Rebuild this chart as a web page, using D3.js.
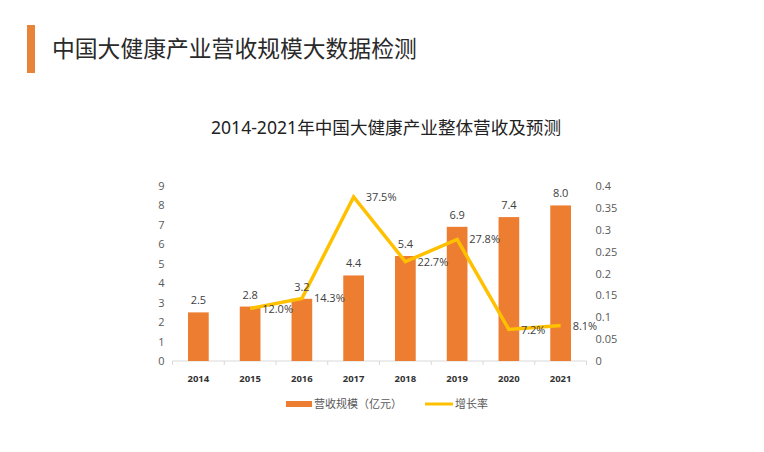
<!DOCTYPE html>
<html>
<head>
<meta charset="utf-8">
<script src="https://cdn.jsdelivr.net/npm/d3@7"></script>
<style>
  body { margin: 0; background: #fff; }
  text { font-family: "Noto Sans", "Noto Sans CJK SC", sans-serif; }
</style>
</head>
<body>
<div id="chart-area"></div>
<script>
// data
const years = ["2014", "2015", "2016", "2017", "2018", "2019", "2020", "2021"];
const revenue = [2.5, 2.8, 3.2, 4.4, 5.4, 6.9, 7.4, 8.0];
const growthYears = ["2015", "2016", "2017", "2018", "2019", "2020", "2021"];
const growth = [0.120, 0.143, 0.375, 0.227, 0.278, 0.072, 0.081];
const leftTicks = [0, 1, 2, 3, 4, 5, 6, 7, 8, 9];
const rightTicks = [0, 0.05, 0.1, 0.15, 0.2, 0.25, 0.3, 0.35, 0.4];

const W = 764, H = 452;
const plot = { left: 172.5, right: 586.5, top: 186, bottom: 361 };

var svg = d3.select("#chart-area")
  .append("svg")
    .attr("width", W)
    .attr("height", H);

// header
svg.append("rect")
  .attr("x", 27).attr("y", 25).attr("width", 8).attr("height", 48)
  .attr("fill", "#E8833A");
svg.append("text")
  .attr("x", 52).attr("y", 57)
  .attr("font-size", 22.8)
  .attr("fill", "#2a2a2a")
  .text("中国大健康产业营收规模大数据检测");

svg.append("text")
  .attr("x", 386).attr("y", 134)
  .attr("text-anchor", "middle")
  .attr("font-size", 17.6)
  .attr("fill", "#222")
  .text("2014-2021年中国大健康产业整体营收及预测");

// scales
var x = d3.scaleBand()
  .domain(years)
  .range([plot.left, plot.right])
  .paddingInner(0.6)
  .paddingOuter(0.3);

var y = d3.scaleLinear().domain([0, 9]).range([plot.bottom, plot.top]);
var y2 = d3.scaleLinear().domain([0, 0.4]).range([plot.bottom, plot.top]);

// left axis
var yAxis = svg.append("g")
  .attr("transform", "translate(" + (plot.left - 8) + ",0)")
  .call(d3.axisLeft(y).tickValues(leftTicks).tickSize(0).tickPadding(0));
yAxis.select(".domain").remove();
yAxis.selectAll("text").attr("font-size", 11).attr("fill", "#595959")
  .style("font-family", "Open Sans, sans-serif");

// right axis
var y2Axis = svg.append("g")
  .attr("transform", "translate(" + (plot.right + 9) + ",0)")
  .call(d3.axisRight(y2).tickValues(rightTicks).tickSize(0).tickPadding(0)
    .tickFormat(d => d === 0 ? "0" : String(+d.toFixed(2))));
y2Axis.select(".domain").remove();
y2Axis.selectAll("text").attr("font-size", 11).attr("fill", "#595959")
  .style("font-family", "Open Sans, sans-serif");

// x axis
var xAxisG = svg.append("g")
  .attr("transform", "translate(0," + plot.bottom + ")");
xAxisG.append("line")
  .attr("x1", plot.left).attr("x2", plot.right)
  .attr("stroke", "#d9d9d9");
xAxisG.selectAll(".tk")
  .data(d3.range(years.length + 1))
  .enter().append("line")
    .attr("x1", i => plot.left + i * (plot.right - plot.left) / years.length)
    .attr("x2", i => plot.left + i * (plot.right - plot.left) / years.length)
    .attr("y1", 0).attr("y2", 4)
    .attr("stroke", "#d9d9d9");
xAxisG.selectAll(".yr")
  .data(years)
  .enter().append("text")
    .attr("x", d => x(d) + x.bandwidth() / 2)
    .attr("y", 21)
    .attr("text-anchor", "middle")
    .attr("font-size", 9.5)
    .attr("font-weight", "bold")
    .attr("fill", "#333")
    .text(d => d);

// bars
svg.selectAll(".bar")
  .data(revenue)
  .enter().append("rect")
    .attr("x", (d, i) => x(years[i]))
    .attr("y", d => y(d))
    .attr("width", x.bandwidth())
    .attr("height", d => plot.bottom - y(d))
    .attr("fill", "#ED7D31");

// growth line
var line = d3.line()
  .x((d, i) => x(growthYears[i]) + x.bandwidth() / 2)
  .y(d => y2(d));

svg.append("path")
  .datum(growth)
  .attr("d", line)
  .attr("fill", "none")
  .attr("stroke", "#FFC000")
  .attr("stroke-width", 3.5)
  .attr("stroke-linejoin", "miter");

// labels on top
svg.selectAll(".barlbl")
  .data(revenue)
  .enter().append("text")
    .attr("x", (d, i) => x(years[i]) + x.bandwidth() / 2)
    .attr("y", d => y(d) - 8)
    .attr("text-anchor", "middle")
    .attr("font-size", 11)
    .attr("fill", "#404040")
    .style("font-family", "Open Sans, sans-serif")
    .text(d => d.toFixed(1));

svg.selectAll(".glbl")
  .data(growth)
  .enter().append("text")
    .attr("x", (d, i) => x(growthYears[i]) + x.bandwidth() / 2 + 12)
    .attr("y", d => y2(d) + 4)
    .attr("font-size", 11)
    .attr("fill", "#404040")
    .style("font-family", "Open Sans, sans-serif")
    .text(d => (d * 100).toFixed(1) + "%");

// legend
var legend = svg.append("g");
legend.append("rect")
  .attr("x", 286).attr("y", 401).attr("width", 26).attr("height", 6)
  .attr("fill", "#ED7D31");
legend.append("text")
  .attr("x", 314).attr("y", 408)
  .attr("font-size", 11).attr("fill", "#595959")
  .text("营收规模（亿元）");
legend.append("line")
  .attr("x1", 425).attr("x2", 453).attr("y1", 404).attr("y2", 404)
  .attr("stroke", "#FFC000").attr("stroke-width", 3);
legend.append("text")
  .attr("x", 455).attr("y", 408)
  .attr("font-size", 11).attr("fill", "#595959")
  .text("增长率");
</script>
</body>
</html>
